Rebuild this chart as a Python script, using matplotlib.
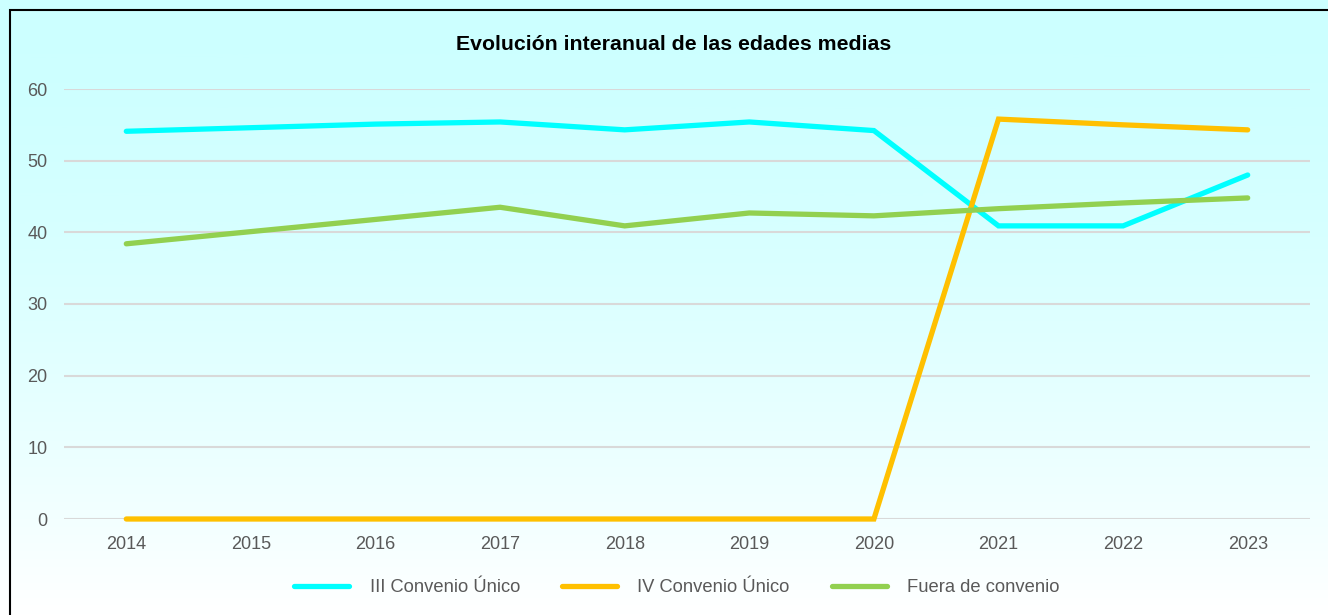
import matplotlib.pyplot as plt
import numpy as np
from matplotlib.patches import Rectangle
from matplotlib.colors import LinearSegmentedColormap

years = ['2014', '2015', '2016', '2017', '2018', '2019', '2020', '2021', '2022', '2023']
iii_convenio = [54.1, 54.6, 55.1, 55.4, 54.3, 55.4, 54.2, 40.9, 40.9, 48.0]
iv_convenio = [0, 0, 0, 0, 0, 0, 0, 55.8, 55.0, 54.3]
fuera_convenio = [38.4, 40.1, 41.8, 43.5, 40.9, 42.7, 42.3, 43.3, 44.1, 44.8]

series = [
  ('III Convenio Único', iii_convenio, '#00FFFF'),
  ('IV Convenio Único', iv_convenio, '#FFC000'),
  ('Fuera de convenio', fuera_convenio, '#92D050'),
]

plt.rcParams['font.family'] = ['Liberation Sans', 'DejaVu Sans']

W, H = 1328, 615
fig = plt.figure(figsize=(W / 100, H / 100), dpi=100)

# background gradient (light cyan at top fading to white)
bg = fig.add_axes([0, 0, 1, 1], zorder=-10)
bg.set_axis_off()
grad = np.linspace(0, 1, 256) ** 1.6
cmap = LinearSegmentedColormap.from_list('bg', ['#CCFFFF', '#FFFFFF'])
bg.imshow(grad[:, None], aspect='auto', cmap=cmap, extent=[0, 1, 0, 1], origin='upper')
bg.set_xlim(0, 1)
bg.set_ylim(0, 1)
bg.add_patch(Rectangle((10 / W, -0.1), 1.1, 1 - 10 / H + 0.1, fill=False, edgecolor='black', linewidth=1.5))

ax = fig.add_axes([64 / W, (H - 519) / H, (1310 - 64) / W, (519 - 89) / H])
ax.patch.set_alpha(0)
x = np.arange(len(years))
for label, values, color in series:
  ax.plot(x, values, color=color, linewidth=3.8, label=label, solid_capstyle='round', solid_joinstyle='miter', clip_on=False)

ax.set_xlim(-0.5, len(years) - 0.5)
ax.set_ylim(0, 60)
ax.set_yticks(range(0, 61, 10))
ax.set_xticks(x)
ax.set_xticklabels(years)
ax.grid(axis='y', color='#D9D9D9', linewidth=1.5)
ax.set_axisbelow(True)
for s in ax.spines.values():
  s.set_visible(False)
ax.tick_params(length=0, labelsize=13, labelcolor='#595959')
ax.tick_params(axis='x', pad=12)
ax.tick_params(axis='y', pad=12)

fig.text(674 / W, 1 - 45 / H, 'Evolución interanual de las edades medias', ha='center', va='center', fontsize=15.3, fontweight='bold', color='black')

leg = fig.legend(loc='center', bbox_to_anchor=(677 / W, 1 - 588 / H), ncol=3, frameon=False, fontsize=13.2,
                 handlelength=3.0, handletextpad=1.1, columnspacing=2.3)
for t in leg.get_texts():
  t.set_color('#595959')

plt.savefig('out.png', dpi=100)
